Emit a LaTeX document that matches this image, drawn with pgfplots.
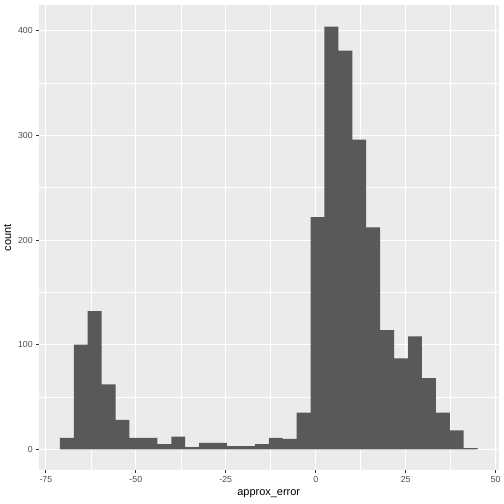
\documentclass[border=0pt]{standalone}
\usepackage{pgfplots}
\pgfplotsset{compat=1.18}
\usepackage{fontspec}
\setmainfont{Liberation Sans}

\definecolor{panelbg}{HTML}{EBEBEB}
\definecolor{barfill}{HTML}{595959}
\definecolor{ticktext}{HTML}{4D4D4D}
\definecolor{tickmark}{HTML}{333333}

% histogram: left bin edge, count (last row closes the final bin)
\pgfplotstableread{
edge count
-71.10 11
-67.23 100
-63.36 132
-59.49 62
-55.62 28
-51.75 11
-47.88 11
-44.01 5
-40.14 12
-36.27 2
-32.40 6
-28.53 6
-24.66 3
-20.79 3
-16.92 5
-13.05 11
-9.18 10
-5.31 35
-1.44 222
2.43 404
6.30 381
10.17 296
14.04 212
17.91 114
21.78 87
25.65 108
29.52 68
33.39 35
37.26 18
41.13 1
45.00 1
}\histdata

\begin{document}
\begin{tikzpicture}
\path[use as bounding box] (0bp,0bp) rectangle (504bp,504bp);
\begin{axis}[
  at={(39bp,33.6bp)}, anchor=south west,
  scale only axis, width=459.5bp, height=464.9bp,
  xmin=-76.9, xmax=50.8, ymin=-20.2, ymax=424.2,
  axis background/.style={fill=panelbg},
  axis line style={draw=none},
  xtick={-75,-50,-25,0,25,50},
  ytick={0,100,200,300,400},
  minor xtick={-62.5,-37.5,-12.5,12.5,37.5},
  minor ytick={50,150,250,350},
  grid=both,
  major grid style={white, line width=1.07bp},
  minor grid style={white, line width=0.53bp},
  tick align=outside,
  xtick pos=bottom, ytick pos=left,
  major tick length=2.75bp, minor tick length=0pt,
  tick style={tickmark, line width=1.07bp},
  /pgf/number format/assume math mode=true,
  ticklabel style={font=\fontsize{8.8}{10}\selectfont, text=ticktext},
  scaled ticks=false,
  xticklabel style={/pgf/number format/.cd, fixed, precision=1},
  xlabel={approx\_error},
  ylabel={count},
  label style={font=\fontsize{11}{13}\selectfont, text=black},
]
\addplot[ybar interval, fill=barfill, draw=none] table[x=edge, y=count] {\histdata};
\end{axis}
\end{tikzpicture}
\end{document}
